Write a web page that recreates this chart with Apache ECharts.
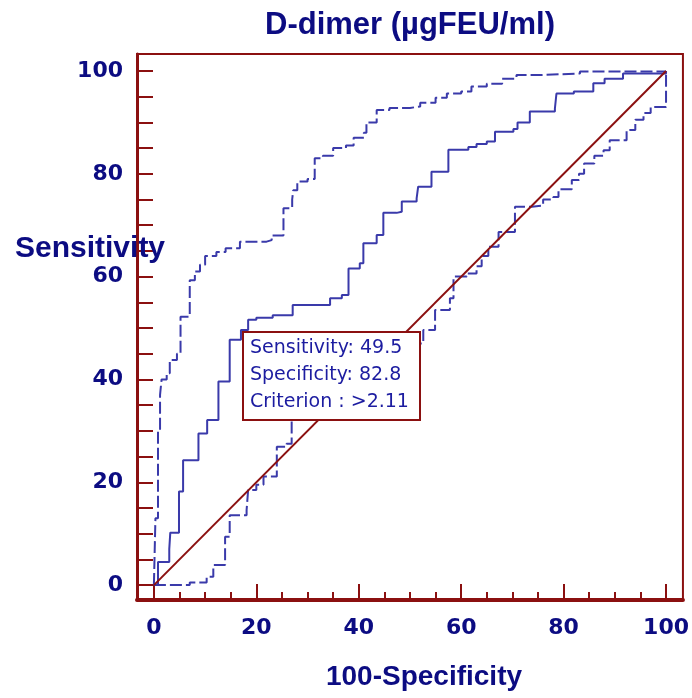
<!DOCTYPE html>
<html>
<head>
<meta charset="utf-8">
<script src="https://cdn.jsdelivr.net/npm/echarts@6/dist/echarts.min.js"></script>
<style>
  html, body { margin: 0; padding: 0; background: #fff; }
  #chart { width: 692px; height: 698px; }
</style>
</head>
<body>
<div id="chart"></div>
<script>
// ROC curve and its 95% confidence bounds as [100-Specificity, Sensitivity]
// (each point = x where the step rises, y after the rise)
const rocPoints = [
  [0, 0], [0.8, 4.5], [3, 7], [3.2, 10.2], [4.9, 18.2], [5.7, 24.3], [8.7, 29.5], [10.4, 32.1],
  [12.6, 39.6], [14.8, 47.7], [17, 49.6], [18.4, 51.6], [20, 52], [23.2, 52.5], [27.1, 54.5],
  [34.4, 55.8], [36.7, 56.4], [38, 61.6], [40.2, 62.6], [40.9, 66.5], [43.5, 68.1], [44.8, 72.4],
  [47.4, 72.6], [48.4, 74.6], [51.3, 75.2], [51.6, 77.5], [54.2, 80.4], [57.5, 84.7], [61.4, 85.2],
  [63, 85.8], [65, 86.3], [66.6, 88.2], [70.2, 88.7], [71, 90], [73.4, 92.1], [78.3, 92.7],
  [78.6, 95.6], [82, 96], [85.8, 97.6], [88, 98.5], [91.6, 99.5], [100, 100]
]
const upperPoints = [
  [0, 0], [0.3, 13], [0.8, 30], [1.2, 37], [1.5, 40], [2.5, 41.2], [3.1, 43.8], [4.5, 45],
  [5.2, 52.2], [7, 59.3], [8, 61], [9, 62.3], [10, 64], [12.2, 64.8], [14, 65.5], [16.8, 66.8],
  [22, 67.1], [23, 68], [25.3, 73.3], [27, 75], [27.2, 76.8], [28, 78.5], [30, 79], [31.4, 83],
  [33, 83.5], [35, 85], [37.5, 85.5], [39, 87], [41, 88], [41.5, 90], [43.5, 92.4], [46, 92.8],
  [50, 93.1], [52, 93.8], [55, 94.8], [57.2, 95.6], [60, 96], [62, 97], [65, 97.5], [68, 98.5],
  [70.8, 99.2], [75, 99.5], [83.2, 99.9], [100, 100]
]
const lowerPoints = [
  [0, 0], [7, 0.5], [10.3, 1.6], [11.6, 3.9], [13.9, 9.4], [14.8, 13.6], [18.1, 14.6], [18.4, 18.5],
  [20, 19.5], [21.4, 21.1], [24, 26.9], [25.9, 27.5], [26.9, 36], [30, 38], [35, 42], [45, 47],
  [52.6, 49.6], [54.9, 53.5], [57.8, 55.8], [58.5, 60], [61.1, 60.6], [63, 62], [64, 64],
  [65.3, 65.8], [67.3, 68.7], [70.5, 73.6], [73.8, 73.8], [76, 75], [78, 75.5], [79, 77],
  [81.6, 78.8], [83, 80], [84, 82], [86, 83.5], [87.8, 84.6], [89, 86.5], [92.3, 88.5],
  [94, 90.5], [95.6, 91.8], [97, 93], [100, 94.7], [100, 100]
]
const diagonal = [[0, 0], [100, 100]]

const majorTicks = [0, 20, 40, 60, 80, 100]
const minorTicks = [5, 10, 15, 25, 30, 35, 45, 50, 55, 65, 70, 75, 85, 90, 95]
const yTicks = [0, 5, 10, 15, 20, 25, 30, 35, 40, 45, 50, 55, 60, 65, 70, 75, 80, 85, 90, 95, 100]

const infoLines = ['Sensitivity: 49.5', 'Specificity: 82.8', 'Criterion : >2.11']

const red = '#8b1010'
const navy = '#0c0c82'
const blue = '#3a3aaa'

const chart = echarts.init(document.getElementById('chart'))

const labelStyle = {
  color: navy,
  fontFamily: 'DejaVu Sans',
  fontWeight: 'bold',
  fontSize: 22
}

chart.setOption({
  animation: false,
  backgroundColor: '#fff',
  grid: {
    left: 137, top: 54, right: 9, bottom: 98,
    show: true, borderColor: red, borderWidth: 2, backgroundColor: '#fff'
  },
  xAxis: [{
    type: 'value', min: -3.3, max: 103.3,
    splitLine: { show: false },
    axisLine: { onZero: false, lineStyle: { color: red, width: 4 } },
    axisTick: { inside: true, length: 16, customValues: majorTicks, lineStyle: { color: red, width: 2 } },
    axisLabel: Object.assign({ customValues: majorTicks, margin: 17 }, labelStyle)
  }, {
    type: 'value', min: -3.3, max: 103.3, position: 'bottom',
    splitLine: { show: false },
    axisLine: { show: false, onZero: false },
    axisTick: { inside: true, length: 8, customValues: minorTicks, lineStyle: { color: red, width: 2 } },
    axisLabel: { show: false }
  }],
  yAxis: {
    type: 'value', min: -2.9, max: 103.3,
    splitLine: { show: false },
    axisLine: { onZero: false, lineStyle: { color: red, width: 3 } },
    axisTick: { inside: true, length: 16, customValues: yTicks, lineStyle: { color: red, width: 2 } },
    axisLabel: Object.assign({ customValues: majorTicks, margin: 14 }, labelStyle)
  },
  series: [
    {
      type: 'line', data: upperPoints, step: 'end', showSymbol: false, silent: true,
      lineStyle: { color: blue, width: 2, type: [12, 4] }
    },
    {
      type: 'line', data: lowerPoints, step: 'end', showSymbol: false, silent: true,
      lineStyle: { color: blue, width: 2, type: [12, 4] }
    },
    {
      type: 'line', data: rocPoints, step: 'end', showSymbol: false, silent: true,
      lineStyle: { color: blue, width: 2 }
    },
    {
      type: 'line', data: diagonal, showSymbol: false, silent: true, z: 5,
      lineStyle: { color: red, width: 2 }
    }
  ],
  graphic: [
    {
      type: 'text', x: 410, y: 25, z: 100,
      style: { text: 'D-dimer (µgFEU/ml)', fill: navy, align: 'center', verticalAlign: 'middle',
        font: 'bold 31px "Liberation Sans", Arial, sans-serif' }
    },
    {
      type: 'text', x: 15, y: 249, z: 100,
      style: { text: 'Sensitivity', fill: navy, align: 'left', verticalAlign: 'middle',
        font: 'bold 30px "Liberation Sans", Arial, sans-serif' }
    },
    {
      type: 'text', x: 424, y: 677, z: 100,
      style: { text: '100-Specificity', fill: navy, align: 'center', verticalAlign: 'middle',
        font: 'bold 28px "Liberation Sans", Arial, sans-serif' }
    },
    {
      type: 'rect', x: 243, y: 332, z: 100, zlevel: 1,
      shape: { x: 0, y: 0, width: 177, height: 88 },
      style: { fill: '#fff', stroke: red, lineWidth: 2 }
    }
  ].concat(infoLines.map((t, i) => ({
    type: 'text', x: 250, y: 348 + i * 27, z: 101, zlevel: 1,
    style: { text: t, fill: '#1c1ca0', verticalAlign: 'middle',
      font: '19px "DejaVu Sans", sans-serif' }
  })))
})
</script>
</body>
</html>
